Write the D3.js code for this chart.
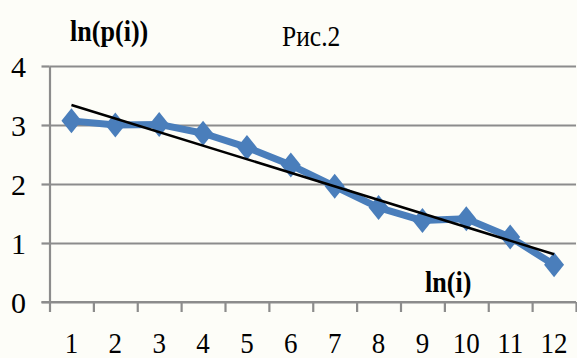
<!DOCTYPE html>
<html>
<head>
<meta charset="utf-8">
<script src="https://cdn.jsdelivr.net/npm/d3@7"></script>
</head>
<body style="margin:0">
<script>
// data
const categories = ['1', '2', '3', '4', '5', '6', '7', '8', '9', '10', '11', '12'];
const lnP = [3.07, 3.0, 3.01, 2.86, 2.62, 2.32, 1.96, 1.60, 1.38, 1.41, 1.10, 0.63];
const trendEnds = [3.34, 0.81];   // linear trend at first and last category
const yTicks = [0, 1, 2, 3, 4];

const width = 577, height = 358;
const plot = { left: 49.5, right: 576, top: 66, bottom: 302 };

const svg = d3.select('body').append('svg')
  .attr('width', width)
  .attr('height', height)
  .attr('font-family', 'Liberation Serif')
  .style('font-family', "'Liberation Serif'");

svg.append('rect').attr('width', width).attr('height', height).attr('fill', '#fdfdf8');

const x = d3.scaleBand()
  .domain(categories)
  .range([plot.left, plot.right]);

// boundaries between categories, for the tick marks
const xEdge = d3.scaleLinear()
  .domain([0, categories.length])
  .range([plot.left, plot.right]);

const y = d3.scaleLinear()
  .domain([0, 4])
  .range([plot.bottom, plot.top]);

const grey = '#8c8c8c';

// horizontal grid
const grid = svg.append('g')
  .attr('transform', `translate(${plot.left},0)`)
  .call(d3.axisLeft(y).tickValues(yTicks).tickSize(-(plot.right - plot.left)).tickFormat(''));
grid.select('.domain').remove();
grid.selectAll('line').attr('stroke', grey).attr('stroke-width', 2.2);

// y axis
const yAxis = svg.append('g')
  .attr('transform', `translate(${plot.left},0)`)
  .call(d3.axisLeft(y).tickValues(yTicks).tickFormat(d3.format('d')).tickSizeInner(8).tickSizeOuter(0))
  .attr('font-family', 'Liberation Serif')
  .attr('font-size', 30);
yAxis.select('.domain').attr('stroke', grey).attr('stroke-width', 2.2);
yAxis.selectAll('line').attr('stroke', grey).attr('stroke-width', 2.2);
yAxis.selectAll('text')
  .style('font-family', "'Liberation Serif'")
  .attr('fill', '#000')
  .attr('text-anchor', 'middle')
  .attr('x', -31)
  .attr('dy', '0.34em');

// x axis: tick marks at category edges
const xTicks = svg.append('g')
  .attr('transform', `translate(0,${plot.bottom})`)
  .call(d3.axisBottom(xEdge).tickValues(d3.range(0, categories.length + 1)).tickSizeInner(10).tickSizeOuter(0).tickFormat(''));
xTicks.select('.domain').attr('stroke', grey).attr('stroke-width', 2.2)
  .attr('d', `M${plot.left - 8},0H${plot.right}`);
xTicks.selectAll('line').attr('stroke', grey).attr('stroke-width', 2.2);

// x axis labels at category centres
const xLabels = svg.append('g')
  .attr('transform', `translate(0,${plot.bottom})`)
  .call(d3.axisBottom(x).tickSize(0).tickPadding(0))
  .attr('font-family', 'Liberation Serif')
  .attr('font-size', 30);
xLabels.select('.domain').remove();
xLabels.selectAll('text')
  .style('font-family', "'Liberation Serif'")
  .attr('fill', '#000')
  .attr('y', 51)
  .attr('dy', 0)
  .attr('transform', 'scale(0.9,1)');

// series line
const cx = d => x(d) + x.bandwidth() / 2;
const pts = categories.map((c, i) => [cx(c), y(lnP[i])]);

const blue = '#4a7ebb';
svg.append('path')
  .attr('d', d3.line()(pts))
  .attr('fill', 'none')
  .attr('stroke', blue)
  .attr('stroke-width', 7)
  .attr('stroke-linejoin', 'round');

// diamond markers
svg.selectAll('.marker')
  .data(pts)
  .enter().append('path')
  .attr('class', 'marker')
  .attr('d', d => `M${d[0]},${d[1] - 12.5}L${d[0] + 10},${d[1]}L${d[0]},${d[1] + 12.5}L${d[0] - 10},${d[1]}Z`)
  .attr('fill', blue);

// linear trend
const first = categories[0], last = categories[categories.length - 1];
svg.append('path')
  .attr('d', d3.line()([[cx(first), y(trendEnds[0])], [cx(last), y(trendEnds[1])]]))
  .attr('stroke', '#000')
  .attr('stroke-width', 2.5);

// titles, squeezed horizontally like the original
const title = (tx, ty, txt, bold, sx) => svg.append('text')
  .attr('transform', `translate(${tx},${ty}) scale(${sx},1)`)
  .attr('font-size', 29)
  .attr('font-weight', bold ? 'bold' : 'normal')
  .style('font-family', "'Liberation Serif'")
  .text(txt);

title(70, 41, 'ln(p(i))', true, 0.9);
title(282, 46, 'Рис.2', false, 0.88);
title(425, 292, 'ln(i)', true, 0.9);
</script>
</body>
</html>
